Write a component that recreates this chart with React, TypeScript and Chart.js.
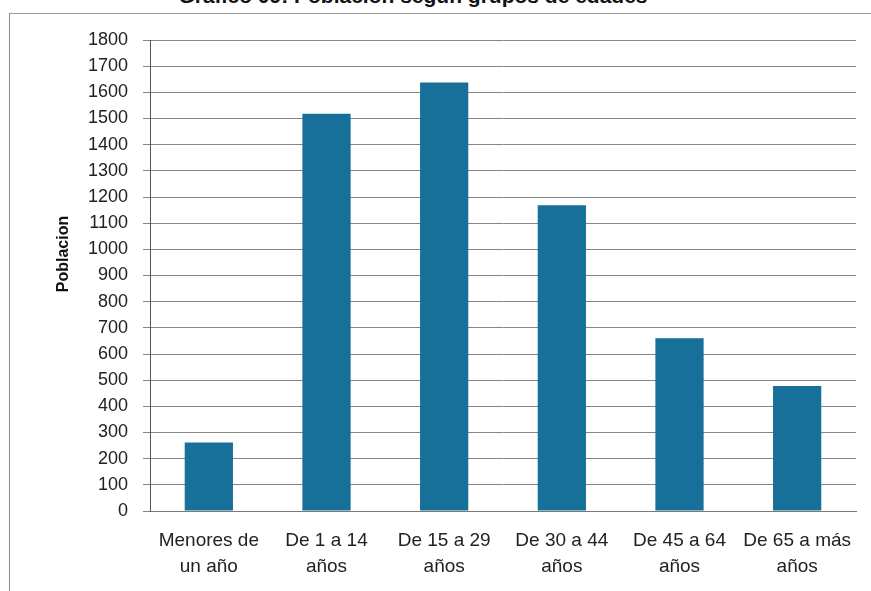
import React, { useEffect, useRef } from "react";
import { Chart, registerables } from "chart.js";

Chart.register(...registerables);

const titleText = "Gráfico 09: Población según grupos de edades";
const yAxisTitle = "Poblacion";
const categories: string[][] = [
  ["Menores de", "un año"],
  ["De 1 a 14", "años"],
  ["De 15 a 29", "años"],
  ["De 30 a 44", "años"],
  ["De 45 a 64", "años"],
  ["De 65 a más", "años"],
];
const population: number[] = [262, 1518, 1638, 1168, 660, 478];
const yMin = 0;
const yMax = 1800;
const yStep = 100;

const FONT = "'Liberation Sans', Arial, sans-serif";

const yTitlePlugin = {
  id: "yTitlePlugin",
  afterDraw(chart: any) {
    const ctx = chart.ctx;
    ctx.save();
    ctx.translate(64, 254);
    ctx.rotate(-Math.PI / 2);
    ctx.font = `bold 16px ${FONT}`;
    ctx.fillStyle = "#111";
    ctx.textAlign = "center";
    ctx.textBaseline = "middle";
    ctx.fillText(yAxisTitle, 0, 0);
    ctx.restore();
  },
};

export default function App() {
  const canvasRef = useRef<HTMLCanvasElement | null>(null);

  useEffect(() => {
    if (!canvasRef.current) return;
    const chart = new Chart(canvasRef.current, {
      type: "bar",
      data: {
        labels: categories,
        datasets: [
          {
            label: yAxisTitle,
            data: population,
            backgroundColor: "#16709a",
            borderWidth: 0,
            barPercentage: 0.41,
            categoryPercentage: 1,
          },
        ],
      },
      plugins: [yTitlePlugin],
      options: {
        animation: false,
        responsive: false,
        maintainAspectRatio: false,
        layout: { padding: { left: 48, right: 15, top: 40, bottom: 0 } },
        plugins: {
          legend: { display: false },
          tooltip: { enabled: false },
          title: { display: false },
        },
        scales: {
          x: {
            grid: { display: false, drawTicks: false },
            border: { display: true, color: "#7a7a7a", width: 1 },
            ticks: {
              color: "#222",
              font: { family: FONT, size: 19, lineHeight: 26 / 19 },
              padding: 17,
              maxRotation: 0,
              autoSkip: false,
            },
            afterFit: (s: any) => {
              s.height = 80;
            },
          },
          y: {
            min: yMin,
            max: yMax,
            grid: {
              color: "#858585",
              lineWidth: 1,
              drawTicks: true,
              tickLength: 7,
            },
            border: { display: true, color: "#555", width: 1 },
            ticks: {
              stepSize: yStep,
              color: "#222",
              font: { family: FONT, size: 18 },
              padding: 15,
              callback: (v: any) => String(v),
            },
            afterFit: (s: any) => {
              s.width = 102;
            },
          },
        },
      },
    });
    return () => chart.destroy();
  }, []);

  return (
    <div
      style={{
        position: "fixed",
        left: 0,
        top: 0,
        width: 871,
        height: 591,
        background: "#fff",
        overflow: "hidden",
      }}
    >
      <div
        style={{
          position: "absolute",
          left: 148,
          top: -16,
          width: 530,
          textAlign: "center",
          fontFamily: FONT,
          fontWeight: "bold",
          fontSize: 21,
          lineHeight: "24px",
          color: "#111",
          whiteSpace: "nowrap",
        }}
      >
        {titleText}
      </div>
      <div
        style={{
          position: "absolute",
          left: 9,
          top: 13,
          right: 0,
          bottom: 0,
          borderLeft: "1px solid #8a8a8a",
          borderTop: "1px solid #9a9a9a",
        }}
      />
      <canvas
        ref={canvasRef}
        width={871}
        height={591}
        style={{ position: "absolute", left: 0, top: 0, width: 871, height: 591 }}
      />
    </div>
  );
}
